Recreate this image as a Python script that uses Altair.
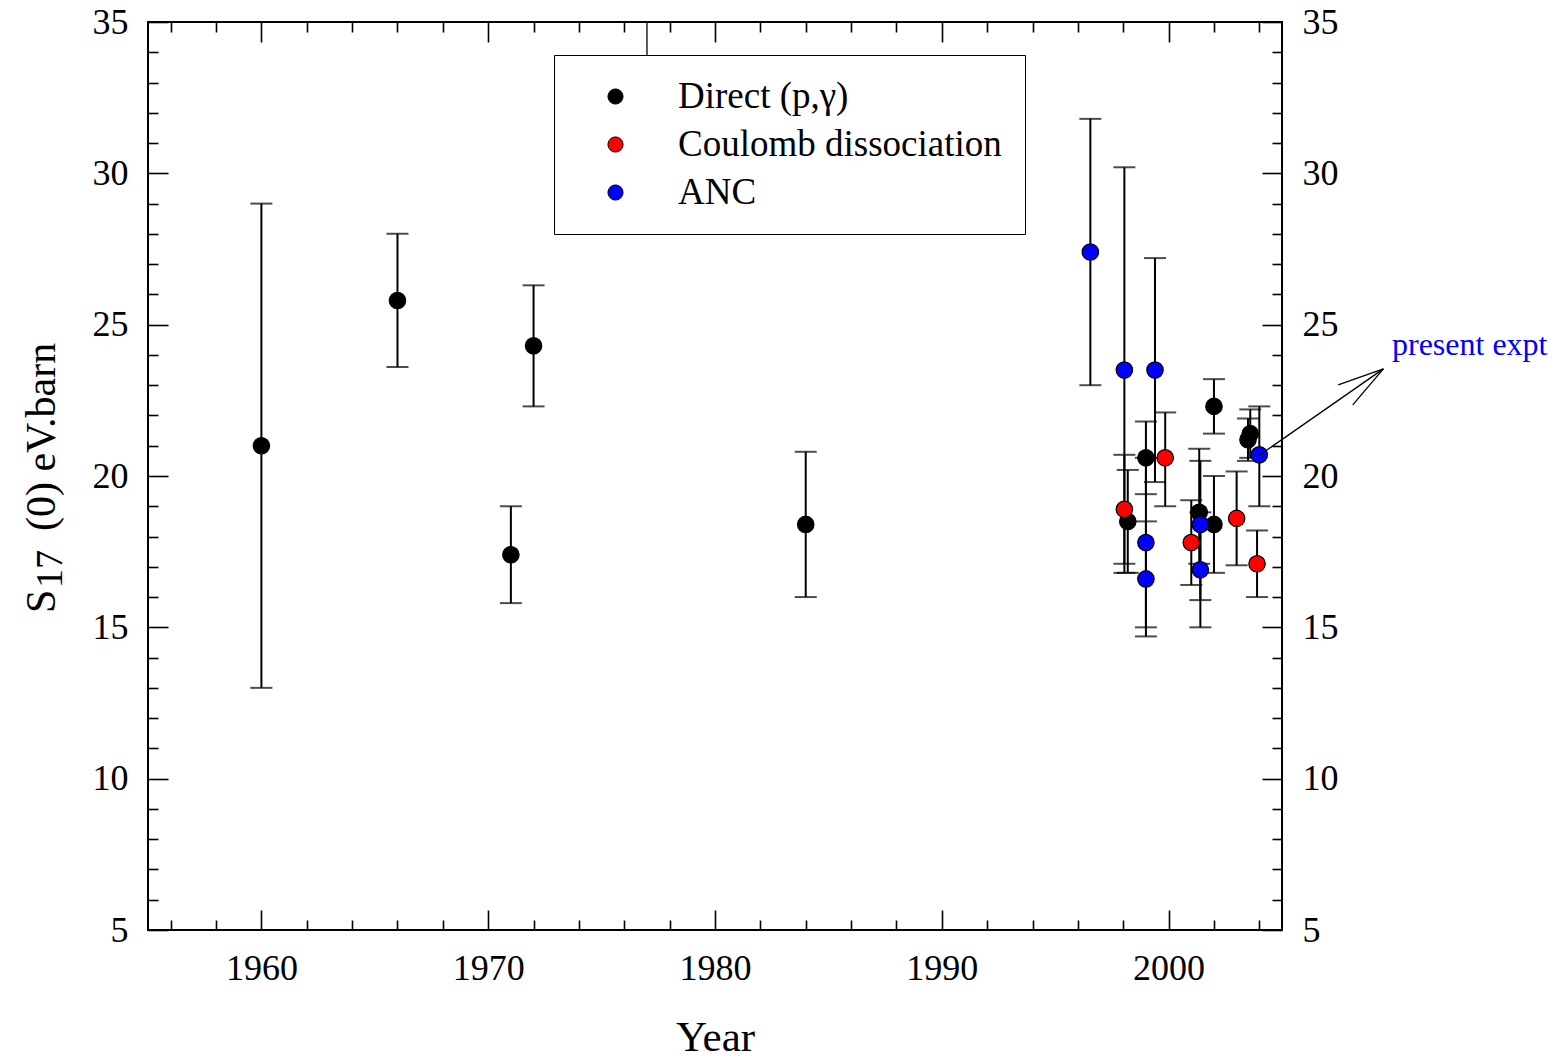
import altair as alt
import pandas as pd

FONT = "Liberation Serif"

# ---- data (year, value, upper, lower) ----
direct_year = [1960, 1966, 1971, 1972, 1984, 1998.2, 1999.0, 2001.35, 2002.0, 2002.0, 2003.5, 2003.6]
direct_val  = [21.0, 25.8, 17.4, 24.3, 18.4, 18.5, 20.6, 18.8, 18.4, 22.3, 21.2, 21.4]
direct_hi   = [29.0, 28.0, 19.0, 26.3, 20.8, 20.2, 21.8, 20.9, 20.0, 23.2, 21.9, 22.2]
direct_lo   = [13.0, 23.6, 15.8, 22.3, 16.0, 16.8, 19.4, 17.1, 16.8, 21.4, 20.5, 20.6]

coul_year = [1998.05, 1999.85, 2001.0, 2003.0, 2003.9]
coul_val  = [18.9, 20.6, 17.8, 18.6, 17.1]
coul_hi   = [20.7, 22.1, 19.2, 20.15, 18.2]
coul_lo   = [17.1, 19.0, 16.4, 17.05, 16.0]

anc_year = [1996.55, 1998.05, 1999.0, 1999.0, 1999.4, 2001.4, 2001.4, 2004.0]
anc_val  = [27.4, 23.5, 17.8, 16.6, 23.5, 18.4, 16.9, 20.7]
anc_hi   = [31.8, 30.2, 20.6, 18.5, 27.2, 20.5, 18.8, 22.3]
anc_lo   = [23.0, 16.8, 15.0, 14.7, 19.8, 15.9, 15.0, 19.0]

series_names = ["Direct (p,\u03b3)", "Coulomb dissociation", "ANC"]
series_colors = ["#000000", "#ff0000", "#0000ff"]

# axes
x_domain = [1955, 2005]
y_domain = [5, 35]
x_major = [1960, 1970, 1980, 1990, 2000]
x_minor = [1956, 1958, 1962, 1964, 1966, 1968, 1972, 1974, 1976, 1978, 1982, 1984,
           1986, 1988, 1992, 1994, 1996, 1998, 2002, 2004]
y_major = [5, 10, 15, 20, 25, 30, 35]
y_minor = [6, 7, 8, 9, 11, 12, 13, 14, 16, 17, 18, 19, 21, 22, 23, 24, 26, 27, 28, 29,
           31, 32, 33, 34]
x_title = "Year"
y_title_parts = ["S", "17", "(0) eV.barn"]   # S with subscript 17

# annotation: "present expt" arrow and legend connector line
seg_x  = [2004.03, 2009.47, 2009.47, 1977.0]
seg_y  = [20.7, 23.54, 23.54, 35.0]
seg_x2 = [2009.47, 2007.48, 2008.12, 1977.0]
seg_y2 = [23.54, 23.01, 22.35, 33.91]
note_text = ["present expt"]
note_x = [2009.85]
note_y = [24.0]

# ---- tables ----
rows = []
for name, ys_, vs, hs, ls in [
    (series_names[0], direct_year, direct_val, direct_hi, direct_lo),
    (series_names[1], coul_year, coul_val, coul_hi, coul_lo),
    (series_names[2], anc_year, anc_val, anc_hi, anc_lo),
]:
    for yr, v, h, l in zip(ys_, vs, hs, ls):
        rows.append({"method": name, "year": yr, "value": v, "hi": h, "lo": l})
df = pd.DataFrame(rows)
caps = pd.concat([
    df[["year", "hi"]].rename(columns={"hi": "cap"}),
    df[["year", "lo"]].rename(columns={"lo": "cap"}),
], ignore_index=True)
segs = pd.DataFrame({"x": seg_x, "y": seg_y, "x2": seg_x2, "y2": seg_y2})
notes = pd.DataFrame({"t": note_text, "x": note_x, "y": note_y})

xs = alt.Scale(domain=x_domain, nice=False, zero=False)
ys = alt.Scale(domain=y_domain, nice=False, zero=False)

MAJ = {"expr": "-20"}
MIN = {"expr": "-10"}

common = dict(grid=False, domain=False, tickColor="black", tickWidth=1.6,
              labelFont=FONT, labelColor="black", titleFont=FONT,
              titleColor="black", titleFontWeight="normal")

def ax(orient, values, size, labels=False, pad=40, title=None, tpad=30, fsize=36):
    kw = dict(common)
    kw.update(orient=orient, values=values, tickSize=size, labels=labels, title=title)
    if labels:
        kw.update(labelPadding=pad, labelFontSize=fsize, format="d")
    if title:
        kw.update(titleFontSize=43, titlePadding=tpad)
    return alt.Axis(**kw)

# layer 1: error bars (bottom / left major axes with labels)
bars = alt.Chart(df).mark_rule(color="black", strokeWidth=2).encode(
    x=alt.X("year:Q", scale=xs, axis=ax("bottom", x_major, MAJ, labels=True, pad=41,
                                        title=x_title, tpad=30)),
    y=alt.Y("lo:Q", scale=ys, axis=ax("left", y_major, MAJ, labels=True, pad=40)),
    y2="hi:Q",
)

# layer 2: caps (bottom / left minor ticks)
capl = alt.Chart(caps).mark_tick(color="black", orient="horizontal", size=22,
                                 thickness=2).encode(
    x=alt.X("year:Q", scale=xs, axis=ax("bottom", x_minor, MIN)),
    y=alt.Y("cap:Q", scale=ys, axis=ax("left", y_minor, MIN)),
)

# layer 3: points (top / right major axes)
pts = alt.Chart(df).mark_circle(size=270, opacity=1, stroke="black",
                                strokeWidth=1.2).encode(
    x=alt.X("year:Q", scale=xs, axis=ax("top", x_major, MAJ)),
    y=alt.Y("value:Q", scale=ys, axis=ax("right", y_major, MAJ, labels=True, pad=40)),
    color=alt.Color("method:N",
                    scale=alt.Scale(domain=series_names, range=series_colors),
                    legend=alt.Legend(orient="none", legendX=406, legendY=33,
                                      title=None, labelFont=FONT, labelFontSize=37,
                                      labelColor="black", labelLimit=0,
                                      symbolType="circle", symbolSize=230,
                                      symbolStrokeColor="black",
                                      symbolStrokeWidth=1,
                                      strokeColor="black", fillColor="white",
                                      padding=23, rowPadding=10,
                                      symbolOffset=20, labelOffset=44)),
)

# layer 4: annotation segments (top / right minor ticks)
seg = alt.Chart(segs).mark_rule(color="black", strokeWidth=1.3).encode(
    x=alt.X("x:Q", scale=xs, axis=ax("top", x_minor, MIN)),
    y=alt.Y("y:Q", scale=ys, axis=ax("right", y_minor, MIN)),
    x2="x2:Q",
    y2="y2:Q",
)

# layer 5: note text
txt = alt.Chart(notes).mark_text(align="left", baseline="alphabetic", color="#0000ff",
                                 font=FONT, fontSize=32).encode(
    x=alt.X("x:Q", scale=xs, axis=None),
    y=alt.Y("y:Q", scale=ys, axis=None),
    text="t:N",
)

# layer 6: y-axis title with subscript, built from text pieces
def title_piece(text, px, py, size):
    return alt.Chart(pd.DataFrame({"t": [text]})).mark_text(
        align="left", baseline="alphabetic", angle=270, font=FONT,
        fontSize=size, color="black").encode(
        x=alt.value(px), y=alt.value(py), text="t:N")

yt1 = title_piece(y_title_parts[0], -93, 591, 42)
yt2 = title_piece(y_title_parts[1], -86, 566, 38)
yt3 = title_piece(y_title_parts[2], -93, 509, 42)

chart = alt.layer(bars, capl, pts, seg, txt, yt1, yt2, yt3).resolve_scale(
    x="independent", y="independent"
).properties(
    width=1134, height=908,
    autosize=alt.AutoSizeParams(type="none"),
    padding={"left": 148, "top": 22, "right": 282, "bottom": 130},
    background="white",
).configure_view(stroke="black", strokeWidth=2)

chart.save("out.html", embed_options={"renderer": "svg", "actions": False})
